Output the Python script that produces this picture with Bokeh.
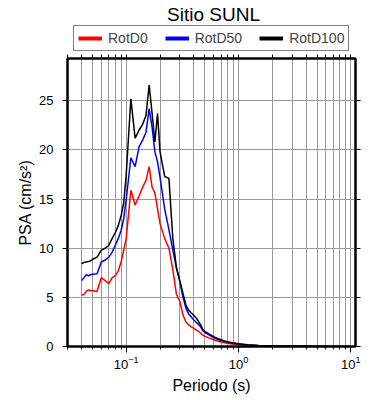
from bokeh.plotting import figure
from bokeh.layouts import column
from bokeh.models import (Range1d, LogAxis, LinearAxis, LogTicker, SingleIntervalTicker,
                          FixedTicker, Legend, Label)
from bokeh.embed import file_html
from bokeh.resources import INLINE

# Data (period in s, PSA in cm/s^2)
periods = [0.04, 0.042, 0.044, 0.046, 0.048, 0.05, 0.055, 0.06, 0.065, 0.07, 0.075, 0.08,
           0.085, 0.09, 0.095, 0.1, 0.11, 0.12, 0.13, 0.14, 0.15, 0.16, 0.17, 0.18, 0.19,
           0.2, 0.22, 0.24, 0.26, 0.28, 0.3, 0.32, 0.34, 0.36, 0.38, 0.4, 0.42, 0.44, 0.46,
           0.48, 0.5, 0.55, 0.6, 0.65, 0.7, 0.75, 0.8, 0.9, 1.0, 1.2, 1.5, 2.0, 3.0, 4.0,
           5.0, 7.0, 10.0]
rotd0 = [5.2, 5.3, 5.6, 5.75, 5.7, 5.7, 5.6, 7.0, 6.7, 6.4, 7.0, 7.2, 7.7, 8.6, 9.8, 11.0,
         15.9, 14.4, 15.3, 16.2, 16.9, 18.3, 16.2, 15.6, 14.0, 12.5, 11.0, 10.0, 7.8, 5.3,
         4.6, 3.2, 2.5, 2.2, 2.0, 1.85, 1.7, 1.55, 1.35, 1.15, 1.05, 0.85, 0.68, 0.55, 0.45,
         0.38, 0.32, 0.24, 0.19, 0.12, 0.075, 0.04, 0.02, 0.013, 0.009, 0.005, 0.003]
rotd50 = [6.7, 7.0, 7.3, 7.2, 7.3, 7.35, 7.4, 8.6, 8.8, 9.1, 9.6, 10.3, 11.0, 11.8, 13.0, 15.0,
          19.2, 18.3, 20.3, 21.0, 21.8, 24.2, 22.3, 19.8, 18.8, 17.2, 14.0, 11.9, 9.8, 8.0,
          6.6, 5.0, 3.9, 3.3, 3.0, 2.7, 2.45, 2.25, 2.0, 1.6, 1.45, 1.15, 0.9, 0.72, 0.6,
          0.5, 0.42, 0.32, 0.25, 0.16, 0.1, 0.055, 0.028, 0.018, 0.012, 0.006, 0.004]
rotd100 = [8.4, 8.55, 8.6, 8.65, 8.7, 8.85, 9.1, 9.8, 10.0, 10.3, 11.0, 11.6, 12.3, 13.3, 14.6,
           17.5, 25.2, 21.2, 22.0, 22.6, 23.5, 26.6, 23.7, 20.8, 23.7, 19.8, 17.3, 17.1, 11.0,
           8.0, 6.7, 5.4, 4.2, 3.7, 3.4, 3.15, 2.9, 2.55, 2.2, 1.75, 1.55, 1.25, 1.0, 0.82,
           0.68, 0.57, 0.48, 0.36, 0.28, 0.18, 0.11, 0.06, 0.03, 0.02, 0.013, 0.007, 0.004]
series_names = ["RotD0", "RotD50", "RotD100"]
series_colors = ["#ff0000", "#0000ff", "#000000"]
y_ticks = [0, 5, 10, 15, 20, 25]
title_text = "Sitio SUNL"
x_label = "Periodo (s)"
y_label = "PSA (cm/s²)"

FONT = "Liberation Sans"
GRID = "#999999"
series = [rotd0, rotd50, rotd100]

# ---------------- header (title + legend) ----------------
# ranges chosen so the series themselves fall outside this strip; only the legend swatches show
head = figure(width=390, height=52, title=None, x_range=Range1d(0, 1), y_range=Range1d(-2, -1),
              x_axis_location=None, y_axis_location=None,
              output_backend="svg", toolbar_location=None,
              min_border_left=67, min_border_right=35, min_border_top=0, min_border_bottom=0)
head.outline_line_color = None
head.grid.visible = False
leg_renderers = [head.line(periods, vals, line_color=c, line_width=4)
                 for vals, c in zip(series, series_colors)]
legend = Legend(items=[(n, [r]) for n, r in zip(series_names, leg_renderers)],
                orientation="horizontal", location=(6, 1),
                border_line_color="black", border_line_width=1.5,
                background_fill_color="white", background_fill_alpha=1,
                padding=4, spacing=17, margin=0,
                glyph_width=24, glyph_height=16, label_height=16, label_standoff=6,
                label_text_font=FONT, label_text_font_size="14px")
head.add_layout(legend, "center")
head.add_layout(Label(x=146, y=38, x_units="screen", y_units="screen", text=title_text,
                      text_align="center", text_baseline="middle", text_font=FONT,
                      text_font_size="19px", text_color="black"))

# ---------------- main plot ----------------
p = figure(width=390, height=348, x_axis_type="log", title=None,
           x_range=Range1d(0.03, 11), y_range=Range1d(0, 29.3),
           output_backend="svg", toolbar_location=None,
           min_border_left=67, min_border_right=35, min_border_top=6, min_border_bottom=54)
p.background_fill_color = "white"
p.outline_line_color = "black"
p.outline_line_width = 2

xt = LogTicker(num_minor_ticks=10)
yt = SingleIntervalTicker(interval=5, num_minor_ticks=0)

xa = p.xaxis[0]
xa.ticker = xt
ya = p.yaxis[0]
ya.ticker = yt

for ax in (xa, ya):
    ax.axis_line_width = 2
    ax.axis_line_color = "black"
    ax.major_tick_in = 0
    ax.major_tick_out = 6
    ax.minor_tick_in = 0
    ax.minor_tick_out = 3
    ax.major_tick_line_color = "black"
    ax.minor_tick_line_color = "black"
    ax.major_label_text_font = FONT
    ax.major_label_text_font_size = "13px"
    ax.major_label_text_color = "black"
    ax.axis_label_text_font = FONT
    ax.axis_label_text_font_size = "16px"
    ax.axis_label_text_font_style = "normal"
    ax.axis_label_text_color = "black"
ya.minor_tick_line_color = None
ya.major_tick_out = 5
xa.axis_label = x_label
ya.axis_label = y_label
xa.major_label_standoff = 3
xa.axis_label_standoff = 5
ya.major_label_standoff = 9
ya.axis_label_standoff = 2

# unlabeled tick-only axes on top and right (ticks as "minor" so no labels are drawn)
top_ticks = [m * 10.0 ** e for e in (-2, -1, 0, 1) for m in range(1, 10)]
top = LogAxis(ticker=FixedTicker(ticks=[], minor_ticks=top_ticks),
              major_tick_line_color=None, minor_tick_in=0, minor_tick_out=4,
              minor_tick_line_color="black", axis_line_width=2)
p.add_layout(top, "above")
right = LinearAxis(ticker=FixedTicker(ticks=[], minor_ticks=y_ticks),
                   major_tick_line_color=None, minor_tick_in=0, minor_tick_out=5,
                   minor_tick_line_color="black", axis_line_width=2)
p.add_layout(right, "right")

p.xgrid.ticker = xt
p.xgrid.grid_line_color = GRID
p.xgrid.minor_grid_line_color = GRID
p.ygrid.ticker = yt
p.ygrid.grid_line_color = GRID

for vals, c in zip(series, series_colors):
    p.line(periods, vals, line_color=c, line_width=1.5)

layout = column(head, p, spacing=0)
open("out.html", "w").write(file_html(layout, INLINE))
